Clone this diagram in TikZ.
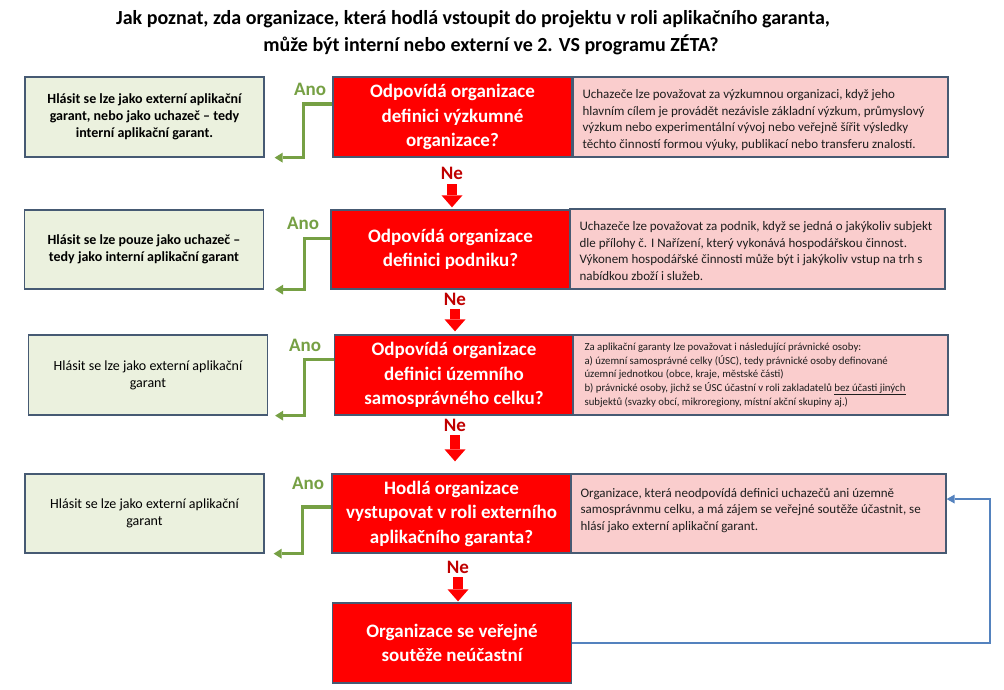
\documentclass[tikz,border=0pt]{standalone}
\usepackage{fontspec}
\setmainfont{Carlito}
\usetikzlibrary{arrows.meta,calc}
\definecolor{gfill}{RGB}{235,241,222}
\definecolor{pfill}{RGB}{250,205,205}
\definecolor{bord}{RGB}{70,90,115}
\definecolor{rfill}{RGB}{255,0,0}
\definecolor{anog}{RGB}{118,160,68}
\definecolor{nered}{RGB}{192,0,0}
\definecolor{blueln}{RGB}{84,130,190}
\definecolor{ptext}{RGB}{30,30,30}
\begin{document}
\begin{tikzpicture}[x=1pt,y=-1pt,
  box/.style={draw=bord,line width=1.3pt,inner sep=0pt,minimum height=80pt},
  greenbox/.style={box,fill=gfill,minimum width=239pt,align=center,text=black,font=\fontsize{14}{17}\selectfont\bfseries},
  greenboxr/.style={greenbox,font=\fontsize{14}{17}\selectfont},
  redbox/.style={box,fill=rfill,minimum width=239pt,align=center,text=white,font=\fontsize{19}{24.5}\selectfont\bfseries},
  pinkbox/.style={box,fill=pfill,minimum width=375pt},
  ptxt/.style={anchor=west,align=left,inner sep=0pt,text=ptext,font=\fontsize{13}{16.5}\selectfont},
  anolab/.style={text=anog,inner sep=0pt,font=\fontsize{19}{21}\selectfont\bfseries},
  nelab/.style={text=nered,inner sep=0pt,font=\fontsize{19}{21}\selectfont\bfseries},
  garr/.style={draw=anog,line width=3.2pt,-{Triangle[width=10pt,length=8pt,line width=0pt]}},
  redarr/.style={draw=rfill,line width=10pt,-{Triangle[width=21pt,length=12pt,line width=0pt]}},
  barr/.style={draw=blueln,line width=2.2pt,-{Triangle[width=9pt,length=8pt,line width=0pt]}},
  titlef/.style={inner sep=0pt,font=\fontsize{20}{24}\selectfont\bfseries}
]
\fill[white] (0,0) rectangle (1004,690);
\useasboundingbox (0,0) rectangle (1004,690);

% title
\node[titlef] (t1) at (473,19) {Jak poznat, zda organizace, která hodlá vstoupit do projektu v roli aplikačního garanta,};
\node[titlef] (t2) at (491,45) {může být interní nebo externí ve 2. VS programu ZÉTA?};

% row 1
\node[greenbox] (g1) at (144.5,117) {Hlásit se lze jako externí aplikační\\garant, nebo jako uchazeč – tedy\\interní aplikační garant.};
\node[redbox] (r1) at (452.5,117) {Odpovídá organizace\\definici výzkumné\\organizace?};
\node[pinkbox] (p1) at (760.5,117) {};
\node[ptxt] (p1t) at ($(p1.west)+(10,3)$) {Uchazeče lze považovat za výzkumnou organizaci, když jeho\\hlavním cílem je provádět nezávisle základní výzkum, průmyslový\\výzkum nebo experimentální vývoj nebo veřejně šířit výsledky\\těchto činností formou výuky, publikací nebo transferu znalostí.};

% row 2
\node[greenbox,minimum height=79pt] (g2) at (144,249.5) {Hlásit se lze pouze jako uchazeč –\\tedy jako interní aplikační garant};
\node[redbox,minimum height=79pt] (r2) at (450.5,249.5) {Odpovídá organizace\\definici podniku?};
\node[pinkbox] (p2) at (757.5,249) {};
\node[ptxt] (p2t) at ($(p2.west)+(10,2)$) {Uchazeče lze považovat za podnik, když se jedná o jakýkoliv subjekt\\dle přílohy č. I Nařízení, který vykonává hospodářskou činnost.\\Výkonem hospodářské činnosti může být i jakýkoliv vstup na trh s\\nabídkou zboží i služeb.};

% row 3
\node[greenboxr] (g3) at (148,375) {Hlásit se lze jako externí aplikační\\garant};
\node[redbox] (r3) at (454,375) {Odpovídá organizace\\definici územního\\samosprávného celku?};
\node[pinkbox] (p3) at (760.5,375) {};
\node[ptxt,font=\fontsize{10.8}{13.6}\selectfont] (p3t) at ($(p3.west)+(12,0)$) {Za aplikační garanty lze považovat i následující právnické osoby:\\a) územní samosprávné celky (ÚSC), tedy právnické osoby definované\\územní jednotkou (obce, kraje, městské části)\\b) právnické osoby, jichž se ÚSC účastní v roli zakladatelů \underline{bez účasti jiných}\\subjektů (svazky obcí, mikroregiony, místní akční skupiny aj.)};

% row 4
\node[greenboxr,minimum height=79pt] (g4) at (144.5,513.5) {Hlásit se lze jako externí aplikační\\garant};
\node[redbox,minimum height=79pt] (r4) at (451.5,513.5) {Hodlá organizace\\vystupovat v roli externího\\aplikačního garanta?};
\node[pinkbox,minimum height=79pt] (p4) at (758.5,513.5) {};
\node[ptxt] (p4t) at ($(p4.west)+(10,-3)$) {Organizace, která neodpovídá definici uchazečů ani územně\\samosprávnmu celku, a má zájem se veřejné soutěže účastnit, se\\hlásí jako externí aplikační garant.};

% row 5
\node[redbox] (r5) at (452,643) {Organizace se veřejné\\soutěže neúčastní};

% Ano labels and green arrows
\node[anolab] (a1) at (310,89) {Ano};
\node[anolab] (a2) at (303,223) {Ano};
\node[anolab] (a3) at (305,345) {Ano};
\node[anolab] (a4) at (308,483) {Ano};

\coordinate (gs1) at ($(r1.north west)!0.34!(r1.south west)$);
\coordinate (gs2) at ($(r2.north west)!0.36!(r2.south west)$);
\coordinate (gs3) at ($(r3.north west)!0.31!(r3.south west)$);
\coordinate (gs4) at ($(r4.north west)!0.42!(r4.south west)$);
\coordinate (ge1) at ($(g1.south east)+(10,0)$);
\coordinate (ge2) at ($(g2.south east)+(11,0)$);
\coordinate (ge3) at ($(g3.south east)+(7,0)$);
\coordinate (ge4) at ($(g4.south east)+(9,0)$);
\draw[garr] (gs1) -| ($(ge1)+(29,0)$) -- (ge1);
\draw[garr] (gs2) -| ($(ge2)+(29,0)$) -- (ge2);
\draw[garr] (gs3) -| ($(ge3)+(29,0)$) -- (ge3);
\draw[garr] (gs4) -| ($(ge4)+(29,0)$) -- (ge4);

% Ne labels and red arrows
\node[nelab] (n1) at (452,173) {Ne};
\node[nelab] (n2) at (455,299) {Ne};
\node[nelab] (n3) at (455,425) {Ne};
\node[nelab] (n4) at (458,567) {Ne};
\draw[redarr,shorten <=5pt,shorten >=2pt] (n1.south) -- (n1.south |- r2.north);
\draw[redarr,shorten <=4pt,shorten >=3pt] (n2.south) -- (n2.south |- r3.north);
\draw[redarr,shorten <=4pt,shorten >=12pt] (n3.south) -- (n3.south |- r4.north);
\draw[redarr,shorten <=4pt,shorten >=1pt] (n4.south) -- (n4.south |- r5.north);

% blue loop back
\coordinate (bx) at (990,0);
\coordinate (p4b) at ($(p4.north east)!0.32!(p4.south east)$);
\draw[barr] (r5.east) -- (r5.east -| bx) |- (p4b);
\end{tikzpicture}
\end{document}
